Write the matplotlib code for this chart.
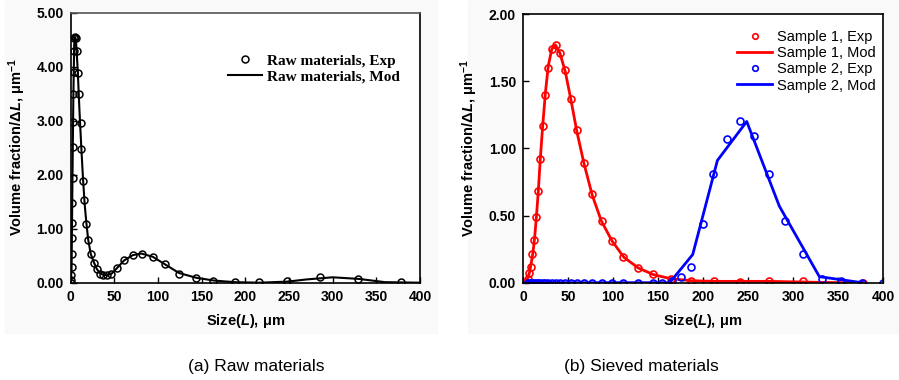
import matplotlib
matplotlib.use("Agg")
import matplotlib.pyplot as plt
from matplotlib import font_manager

# ---- data ----
# (a) raw materials
raw_exp_x = [0.4, 0.6, 0.8, 1.0, 1.2, 1.4, 1.6, 1.8, 2.1, 2.4, 2.7, 3.0, 3.4, 3.8, 4.3,
             5.2, 6.1, 7.6, 8.4, 9.5, 11.4, 12.2, 13.7, 15.6, 17.5, 20.2, 23.3, 26.7,
             29.8, 33.6, 37.3, 41.2, 46.2, 52.7, 61.4, 71.0, 81.3, 93.9, 108, 123.7,
             143.6, 163.4, 188, 216, 248, 286, 329, 378]
raw_exp_y = [0.0, 0.05, 0.15, 0.30, 0.54, 0.82, 1.10, 1.47, 1.93, 2.52, 2.98, 3.50, 3.90, 4.30, 4.53,
             4.55, 4.53, 4.30, 3.89, 3.49, 2.95, 2.48, 1.88, 1.53, 1.08, 0.80, 0.53, 0.37,
             0.26, 0.17, 0.14, 0.15, 0.17, 0.27, 0.42, 0.51, 0.54, 0.48, 0.34, 0.17,
             0.09, 0.04, 0.02, 0.01, 0.03, 0.10, 0.07, 0.01]
raw_mod_x = [0, 1, 2, 3, 4, 5, 6, 8, 10, 12, 14, 16, 18, 20, 23, 27, 30, 34, 38, 42, 47,
             53, 61, 71, 81, 94, 108, 124, 144, 164, 188, 216, 248, 270, 300, 330, 360, 400]
raw_mod_y = [0.0, 0.25, 1.9, 3.4, 4.4, 4.55, 4.5, 3.95, 3.2, 2.55, 1.95, 1.45, 1.1, 0.8, 0.53,
             0.36, 0.25, 0.17, 0.14, 0.14, 0.17, 0.27, 0.41, 0.51, 0.54, 0.48, 0.34, 0.18,
             0.09, 0.04, 0.01, 0.0, 0.02, 0.06, 0.10, 0.07, 0.01, 0.0]

# (b) sieved materials
s1_exp_x = [2.5, 5.2, 7.0, 8.6, 10.2, 12.0, 14.0, 16.4, 19.1, 21.9, 24.8, 28.1, 31.9, 36.3,
            41.1, 46.7, 53.0, 59.6, 67.8, 77.0, 87.4, 99.3, 111.5, 128.1, 144.8, 164, 187,
            212, 241, 273, 311, 353, 378]
s1_exp_y = [0.0, 0.025, 0.07, 0.12, 0.21, 0.32, 0.49, 0.68, 0.92, 1.17, 1.40, 1.60, 1.74, 1.77,
            1.71, 1.58, 1.37, 1.14, 0.89, 0.66, 0.46, 0.31, 0.19, 0.11, 0.065, 0.03, 0.01,
            0.01, 0.005, 0.01, 0.01, 0.0, 0.0]
s1_mod_x = [3, 5, 7, 9, 11, 13, 15, 17, 19, 22, 25, 28, 32, 36, 41, 47, 53, 60, 68, 77, 87,
            99, 112, 128, 145, 164, 187, 212, 241, 273, 311, 353, 378]
s1_mod_y = [0.0, 0.03, 0.07, 0.14, 0.22, 0.34, 0.50, 0.68, 0.90, 1.18, 1.42, 1.61, 1.74, 1.77,
            1.71, 1.57, 1.37, 1.12, 0.88, 0.65, 0.46, 0.31, 0.19, 0.11, 0.06, 0.03, 0.015,
            0.01, 0.01, 0.01, 0.005, 0.0, 0.0]
s2_exp_x = [5.2, 7.0, 8.6, 10.2, 12.0, 14.0, 16.4, 19.1, 21.9, 24.8, 28.1, 31.9, 36.3, 41.1,
            46.7, 53.0, 59.6, 67.8, 77.0, 87.4, 99.3, 111.5, 128.1, 144.8, 154, 165, 176, 187,
            200, 211, 227, 241, 257, 273, 291, 311, 332, 353, 377, 400]
s2_exp_y = [0.0] * 25 + [0.015, 0.04, 0.12, 0.44, 0.81, 1.07, 1.20, 1.09, 0.81, 0.46, 0.21,
                         0.03, 0.01, 0.0, 0.0]
s2_mod_x = [0, 163, 188.6, 216, 248.6, 284.8, 329.3, 377]
s2_mod_y = [0.0, 0.0, 0.21, 0.91, 1.20, 0.57, 0.045, 0.0]

x_ticks = [0, 50, 100, 150, 200, 250, 300, 350, 400]

# ---- fonts ----
names = {f.name for f in font_manager.fontManager.ttflist}
caption_font = "Liberation Sans Narrow" if "Liberation Sans Narrow" in names else "Liberation Sans"
caption_size = 15 if caption_font == "Liberation Sans Narrow" else 12.5

plt.rcParams["font.family"] = "Liberation Sans"
plt.rcParams["mathtext.fontset"] = "custom"
plt.rcParams["mathtext.rm"] = "Liberation Sans:bold"
plt.rcParams["mathtext.it"] = "Liberation Sans:italic:bold"
plt.rcParams["mathtext.bf"] = "Liberation Sans:bold"

W, H = 899, 380
fig = plt.figure(figsize=(W / 100, H / 100), dpi=100)

# very light grey panel backgrounds
fig.patches.append(plt.Rectangle((5 / W, 1 - 333 / H), 432 / W, 333 / H, transform=fig.transFigure,
                                 color="#f9f9f9", zorder=-10))
fig.patches.append(plt.Rectangle((468 / W, 1 - 333 / H), 431 / W, 333 / H, transform=fig.transFigure,
                                 color="#f9f9f9", zorder=-10))

ax1 = fig.add_axes([70.7 / W, 1 - 282.7 / H, 349.3 / W, 270 / H])
ax2 = fig.add_axes([523 / W, 1 - 282.7 / H, 360 / W, 268.7 / H])

ylab = r"Volume fraction/$\Delta\mathit{L}$, $\mathrm{\mu m}^{-1}$"
xlab = r"Size($\mathit{L}$), $\mathrm{\mu m}$"

# (a)
ax1.plot(raw_mod_x, raw_mod_y, color="black", lw=1.5, label="Raw materials, Mod")
ax1.plot(raw_exp_x, raw_exp_y, "o", mfc="none", mec="black", ms=5, mew=1.1,
         label="Raw materials, Exp")
ax1.set_ylim(0, 5)
ax1.set_yticks([0, 1, 2, 3, 4, 5])
ax1.set_yticklabels(["%.2f" % v for v in [0, 1, 2, 3, 4, 5]])
h, l = ax1.get_legend_handles_labels()
ax1.legend(h[::-1], l[::-1], loc="upper left", bbox_to_anchor=(228 / W, 1 - 54 / H),
           bbox_transform=fig.transFigure, frameon=False, borderpad=0, borderaxespad=0,
           handlelength=2.2, handletextpad=0.35, labelspacing=0.15,
           prop={"family": "Liberation Serif", "weight": "bold", "size": 11})

# (b)
ax2.plot(s1_exp_x, s1_exp_y, "o", mfc="none", mec="red", ms=5, mew=1.2, label="Sample 1, Exp")
ax2.plot(s1_mod_x, s1_mod_y, color="red", lw=2, label="Sample 1, Mod")
ax2.plot(s2_exp_x, s2_exp_y, "o", mfc="none", mec="blue", ms=5, mew=1.2, label="Sample 2, Exp")
ax2.plot(s2_mod_x, s2_mod_y, color="blue", lw=2, label="Sample 2, Mod")
ax2.set_ylim(0, 2)
ax2.set_yticks([0, 0.5, 1, 1.5, 2])
ax2.set_yticklabels(["%.2f" % v for v in [0, 0.5, 1, 1.5, 2]])
ax2.legend(loc="upper left", bbox_to_anchor=(737 / W, 1 - 30 / H),
           bbox_transform=fig.transFigure, frameon=False, borderpad=0, borderaxespad=0,
           handlelength=2.4, handletextpad=0.35, labelspacing=0.15, markerscale=0.8,
           prop={"family": "Liberation Sans", "size": 10.5})

for ax in (ax1, ax2):
    ax.set_xlim(0, 400)
    ax.set_xticks(x_ticks)
    ax.set_xticklabels([str(v) for v in x_ticks])
    ax.tick_params(direction="in", length=4, width=1, labelsize=10, pad=5)
    for lab in ax.get_xticklabels() + ax.get_yticklabels():
        lab.set_fontweight("bold")
    for sp in ax.spines.values():
        sp.set_linewidth(1.2)
    ax.set_xlabel(xlab, fontsize=10.5, fontweight="bold", labelpad=6)
    ax.set_facecolor("white")

ax1.set_ylabel(ylab, fontsize=10.5, fontweight="bold", labelpad=6)
ax2.set_ylabel(ylab, fontsize=10.5, fontweight="bold", labelpad=6)
ax1.spines["top"].set_color("#555555")

fig.text(256 / W, 1 - 366 / H, "(a) Raw materials", ha="center", va="center",
         family=caption_font, fontsize=caption_size)
fig.text(641 / W, 1 - 366 / H, "(b) Sieved materials", ha="center", va="center",
         family=caption_font, fontsize=caption_size)

fig.savefig("out.png", dpi=100, facecolor="white")
